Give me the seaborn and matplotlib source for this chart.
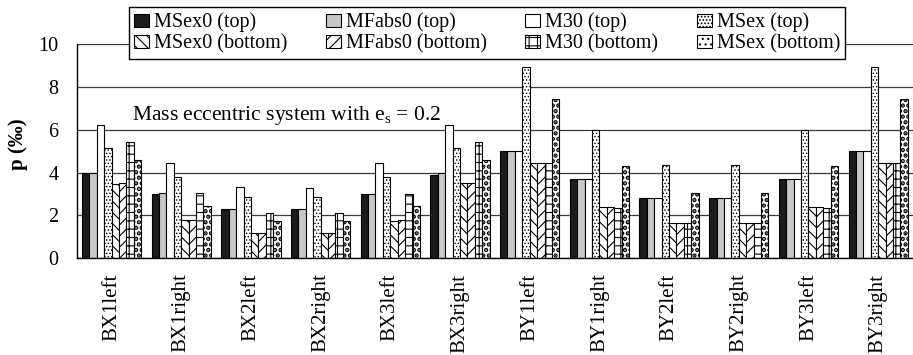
import numpy as np
import pandas as pd
import matplotlib
matplotlib.use("Agg")
import matplotlib.pyplot as plt
from matplotlib.patches import Patch
import seaborn as sns

# Locations (categories along the x axis)
locations = ["BX1left", "BX1right", "BX2left", "BX2right", "BX3left", "BX3right",
             "BY1left", "BY1right", "BY2left", "BY2right", "BY3left", "BY3right"]

# p (per mille) for each method, top and bottom
msex0_top = [4.00, 3.02, 2.31, 2.28, 3.02, 3.88, 5.03, 3.71, 2.80, 2.80, 3.71, 5.00]
mfabs0_top = [4.00, 3.05, 2.31, 2.31, 3.02, 4.00, 5.03, 3.71, 2.80, 2.80, 3.71, 5.03]
m30_top = [6.22, 4.44, 3.31, 3.28, 4.43, 6.22, 5.03, 3.71, 2.80, 2.80, 3.71, 5.03]
msex_top = [5.14, 3.79, 2.85, 2.85, 3.79, 5.14, 8.94, 5.97, 4.37, 4.37, 5.97, 8.94]
msex0_bottom = [3.45, 1.80, 1.17, 1.20, 1.75, 3.52, 4.45, 2.38, 1.67, 1.67, 2.38, 4.45]
mfabs0_bottom = [3.52, 1.80, 1.20, 1.20, 1.77, 3.52, 4.45, 2.38, 1.67, 1.67, 2.38, 4.45]
m30_bottom = [5.41, 3.04, 2.11, 2.11, 3.02, 5.41, 4.45, 2.36, 1.67, 1.67, 2.36, 4.45]
msex_bottom = [4.59, 2.46, 1.72, 1.72, 2.46, 4.59, 7.43, 4.29, 3.04, 3.04, 4.29, 7.43]

series_names = ["MSex0 (top)", "MFabs0 (top)", "M30 (top)", "MSex (top)",
                "MSex0 (bottom)", "MFabs0 (bottom)", "M30 (bottom)", "MSex (bottom)"]
series_values = [msex0_top, mfabs0_top, m30_top, msex_top,
                 msex0_bottom, mfabs0_bottom, m30_bottom, msex_bottom]
y_ticks = [0, 2, 4, 6, 8, 10]

fills = ["#1c1c1c", "#c8c8c8", "white", "white", "white", "white", "white", "white"]
hatches = [None, None, None, ".....", "\\\\\\", "///", "++", "..."]
hatch_widths = [0.8, 0.8, 0.8, 0.6, 0.8, 0.8, 0.8, 2.2]

df = pd.DataFrame({
    "location": np.repeat([locations], len(series_names), axis=0).ravel(),
    "series": np.repeat(series_names, len(locations)),
    "p": np.concatenate(series_values),
})

sns.set_theme(style="white")
plt.rcParams["font.family"] = ["Liberation Serif", "DejaVu Serif"]
plt.rcParams["mathtext.fontset"] = "custom"
plt.rcParams["mathtext.rm"] = "Liberation Serif"
plt.rcParams["mathtext.it"] = "Liberation Serif:italic"
plt.rcParams["hatch.linewidth"] = 0.8
plt.rcParams["hatch.color"] = "black"
for key in ["text.color", "axes.labelcolor", "xtick.color", "ytick.color"]:
    plt.rcParams[key] = "black"


def style_patch(patch, hatch, hlw):
    patch.set_hatch(hatch)
    if hasattr(patch, "set_hatch_linewidth"):
        patch.set_hatch_linewidth(hlw)


fig = plt.figure(figsize=(9.13, 3.55), dpi=100)
ax = fig.add_axes([0.0840, 0.2724, 0.916, 0.6036])

sns.barplot(data=df, x="location", y="p", hue="series", hue_order=series_names,
            order=locations, palette=fills, saturation=1, width=0.85,
            edgecolor="black", linewidth=0.8, errorbar=None, legend=False,
            ax=ax, zorder=3)

for cont, h, hlw in zip(ax.containers, hatches, hatch_widths):
    for bar in cont:
        style_patch(bar, h, hlw)

ax.set_ylim(0, 10)
ax.set_xlim(-0.5, 11.38)
ax.set_yticks(y_ticks)
ax.yaxis.grid(True, color="#3a3a3a", linewidth=0.9, zorder=0)
ax.set_axisbelow(True)
for s in ["top", "right"]:
    ax.spines[s].set_visible(False)
for s in ["left", "bottom"]:
    ax.spines[s].set_color("black")
    ax.spines[s].set_linewidth(1.0)
    ax.spines[s].set_zorder(5)

ax.set_xticks(range(len(locations)))
ax.set_xticklabels(locations, rotation=90, fontsize=15, va="top")
ax.set_xticks(np.arange(-0.5, len(locations), 1), minor=True)
ax.tick_params(axis="x", which="major", length=0, pad=11)
ax.tick_params(axis="x", which="minor", length=6, width=1, direction="out", color="black")
ax.tick_params(axis="y", which="major", length=7, width=1, direction="out",
               color="black", labelsize=14.5, pad=6)
ax.set_xlabel("")
ax.set_ylabel("p (‰)", fontsize=15, fontweight="bold")
ax.yaxis.set_label_coords(-0.058, 0.533)

ax.text(0.30, 6.45, r"Mass eccentric system with e$_\mathrm{s}$ = 0.2",
        fontsize=15.5, ha="left", va="baseline", zorder=4)

handles = []
for c, h, hlw in zip(fills, hatches, hatch_widths):
    p = Patch(facecolor=c, edgecolor="black", linewidth=0.8)
    style_patch(p, h, hlw)
    handles.append(p)
order = [0, 4, 1, 5, 2, 6, 3, 7]
leg = fig.legend([handles[i] for i in order], [series_names[i] for i in order],
                 ncol=4, loc="upper left", bbox_to_anchor=(0.1413, 0.979),
                 fontsize=14.5, frameon=True, fancybox=False,
                 edgecolor="black", framealpha=1, handlelength=0.75, handleheight=0.6,
                 handletextpad=0.25, labelspacing=0.1, borderpad=0.25,
                 columnspacing=1.9, borderaxespad=0)
leg.get_frame().set_linewidth(1.0)

fig.savefig("out.png", dpi=100)
